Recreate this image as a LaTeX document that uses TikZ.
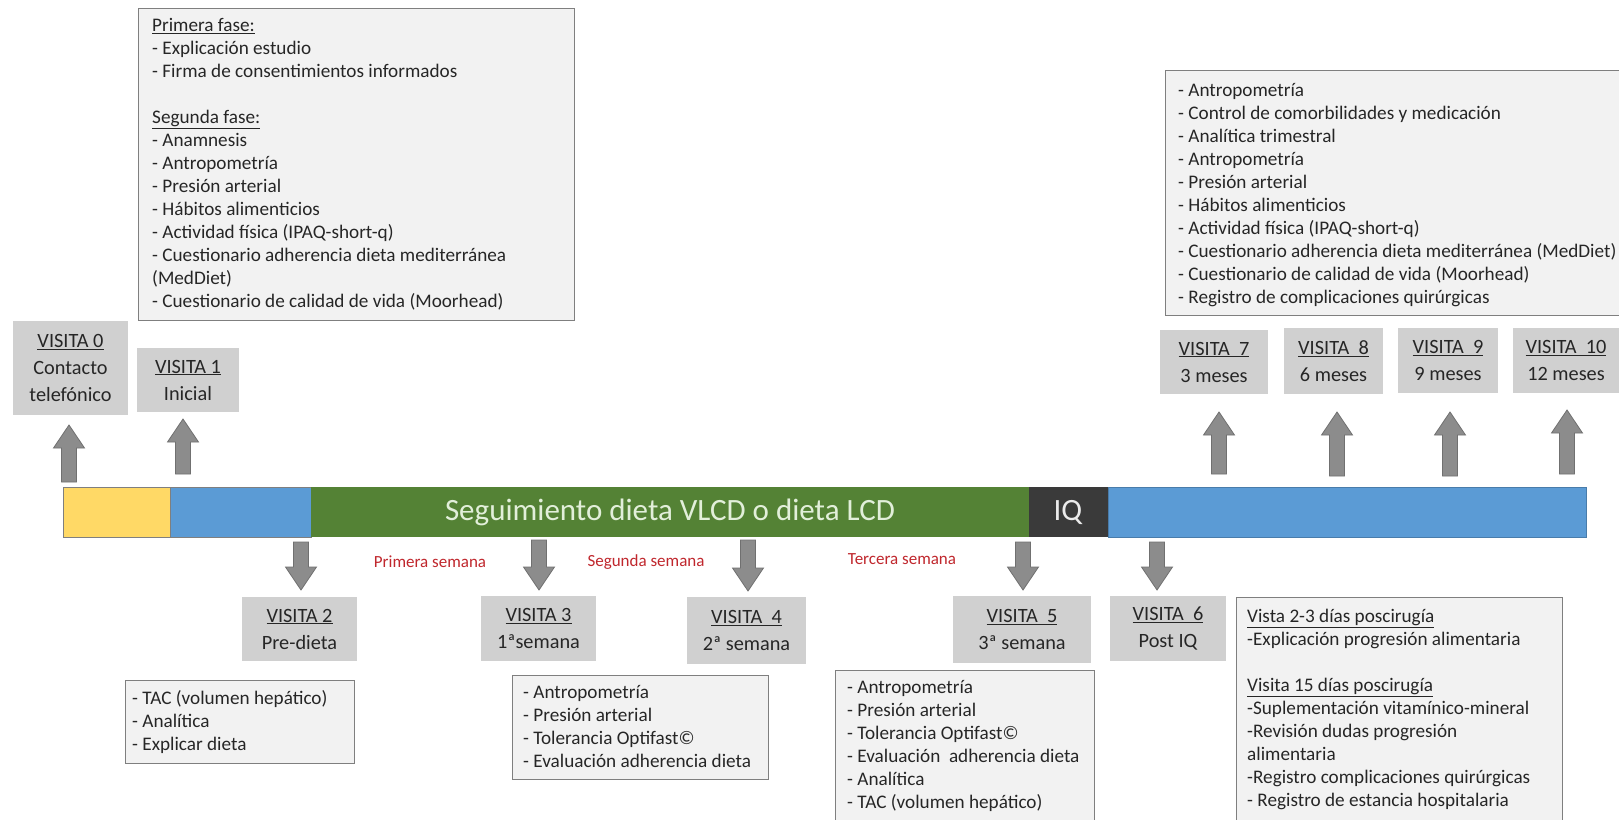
\documentclass[tikz,border=0pt]{standalone}
\usepackage{fontspec}
\setmainfont{Carlito}
\usetikzlibrary{calc}
\definecolor{txt}{HTML}{262626}
\definecolor{boxfill}{HTML}{F2F2F2}
\definecolor{boxdraw}{HTML}{7F7F7F}
\definecolor{visitfill}{HTML}{D0D0D0}
\definecolor{arrowfill}{HTML}{8C8C8C}
\definecolor{arrowdraw}{HTML}{707070}
\definecolor{barY}{HTML}{FFD966}
\definecolor{barB}{HTML}{5B9BD5}
\definecolor{barG}{HTML}{548235}
\definecolor{barK}{HTML}{3A3A3A}
\definecolor{titletxt}{HTML}{E2EFDA}
\definecolor{redtxt}{HTML}{C0272D}
\newcommand\detailfont{\fontsize{19.2}{23}\selectfont}
\newcommand\visitfont{\fontsize{20.3}{27}\selectfont}
\newcommand\vblockarrow[2]{%
  \path[blockarrow] let \p1=(#1), \p2=(#2), \n1={ifthenelse(\y2>\y1,1,-1)} in
    (\x1-7.5pt,\y1) -- (\x1-7.5pt,{\y2-\n1*23pt}) -- (\x1-15.5pt,{\y2-\n1*23pt}) -- (\x2,\y2)
    -- (\x1+15.5pt,{\y2-\n1*23pt}) -- (\x1+7.5pt,{\y2-\n1*23pt}) -- (\x1+7.5pt,\y1) -- cycle;}
\tikzset{
  dbox/.style={draw=boxdraw, fill=boxfill, line width=1pt, anchor=north west, inner sep=0pt},
  dtext/.style={font=\detailfont, text=txt, inner sep=0pt, anchor=base west},
  visit/.style={fill=visitfill, draw=none, align=center, font=\visitfont, text=txt, inner sep=0pt},
  blockarrow/.style={fill=arrowfill, draw=arrowdraw, line width=0.8pt},
  seg/.style={inner sep=0pt, anchor=north west, minimum height=50pt},
  redlabel/.style={font=\fontsize{17}{20}\selectfont, text=redtxt, inner sep=0pt},
}
\begin{document}
\begin{tikzpicture}[x=1pt,y=-1pt]
\useasboundingbox (0,0) rectangle (1619,819);
\clip (0,0) rectangle (1619,819);
\fill[white] (0,0) rectangle (1619,819);

% timeline bar
\node[seg, fill=barY, draw=boxdraw, line width=0.8pt, minimum width=107pt] (sY) at (63,487) {};
\node[seg, fill=barB, draw=boxdraw, line width=0.5pt, minimum width=141pt] (sB1) at (170,487) {};
\node[seg, fill=barG, minimum width=718pt] (sG) at (311,487) {};
\node[seg, fill=barK, minimum width=79pt] (sK) at (1029,487) {};
\node[seg, fill=barB, draw=barB!80!black, line width=0.5pt, minimum width=478pt] (sB2) at (1108,487) {};
\node[font=\fontsize{31}{36}\selectfont, text=titletxt, inner sep=0pt] (title) at (670,512) {Seguimiento dieta VLCD o dieta LCD};
\node[font=\fontsize{31}{36}\selectfont, text=white!92!black, inner sep=0pt] (iq) at (1068,512) {IQ};

% red labels
\node[redlabel] (l1) at (430,562) {Primera semana};
\node[redlabel] (l2) at (646,562) {Segunda semana};
\node[redlabel] (l3) at (902,559) {Tercera semana};

% visit boxes
\node[visit, minimum width=115pt, minimum height=94pt] (v0) at (70.5,368) {\underline{VISITA 0}\\Contacto\\telefónico};
\node[visit, minimum width=102pt, minimum height=64pt] (v1) at (188,380) {\underline{VISITA 1}\\Inicial};
\node[visit, minimum width=115pt, minimum height=64pt] (v2) at (299.5,629) {\underline{VISITA 2}\\Pre-dieta};
\node[visit, minimum width=115pt, minimum height=65pt] (v3) at (538.5,628.5) {\underline{VISITA 3}\\1ªsemana};
\node[visit, minimum width=119pt, minimum height=67pt] (v4) at (746.5,630.5) {\underline{VISITA~~4}\\2ª semana};
\node[visit, minimum width=138pt, minimum height=67pt] (v5) at (1022,629.5) {\underline{VISITA~~5}\\3ª semana};
\node[visit, minimum width=116pt, minimum height=65pt] (v6) at (1168,628.5) {\underline{VISITA~~6}\\Post IQ};
\node[visit, minimum width=108pt, minimum height=64pt] (v7) at (1214,362) {\underline{VISITA~~7}\\3 meses};
\node[visit, minimum width=99pt, minimum height=66pt] (v8) at (1333.5,361) {\underline{VISITA~~8}\\6 meses};
\node[visit, minimum width=100pt, minimum height=65pt] (v9) at (1448,360.5) {\underline{VISITA~~9}\\9 meses};
\node[visit, minimum width=106pt, minimum height=65pt] (v10) at (1566,360.5) {\underline{VISITA~~10}\\12 meses};

% detail boxes
\node[dbox, minimum width=436pt, minimum height=312pt] (d1) at (138,8) {};
\node[dtext] (t1) at (152,31.5) {\parbox[t]{420pt}{\raggedright
\underline{Primera fase:}\\
- Explicación estudio\\
- Firma de consentimientos informados\\[23pt]
\underline{Segunda fase:}\\
- Anamnesis\\
- Antropometría\\
- Presión arterial\\
- Hábitos alimenticios\\
- Actividad física (IPAQ-short-q)\\
- Cuestionario adherencia dieta mediterránea\\
(MedDiet)\\
- Cuestionario de calidad de vida (Moorhead)}};

\node[dbox, minimum width=470pt, minimum height=245pt] (d7) at (1165,70) {};
\node[dtext] (t7) at (1178,96.5) {\parbox[t]{460pt}{\raggedright
- Antropometría\\
- Control de comorbilidades y medicación\\
- Analítica trimestral\\
- Antropometría\\
- Presión arterial\\
- Hábitos alimenticios\\
- Actividad física (IPAQ-short-q)\\
- Cuestionario adherencia dieta mediterránea (MedDiet)\\
- Cuestionario de calidad de vida (Moorhead)\\
- Registro de complicaciones quirúrgicas}};

\node[dbox, minimum width=229pt, minimum height=83pt] (d2) at (125,680) {};
\node[dtext] (t2) at (132,704.5) {\parbox[t]{220pt}{\raggedright
- TAC (volumen hepático)\\
- Analítica\\
- Explicar dieta}};

\node[dbox, minimum width=256pt, minimum height=104pt] (d3) at (512,675) {};
\node[dtext] (t3) at (523,698.5) {\parbox[t]{240pt}{\raggedright
- Antropometría\\
- Presión arterial\\
- Tolerancia Optifast©\\
- Evaluación adherencia dieta}};

\node[dbox, minimum width=259pt, minimum height=170pt] (d5) at (835,670) {};
\node[dtext] (t5) at (847,693) {\parbox[t]{250pt}{\raggedright
- Antropometría\\
- Presión arterial\\
- Tolerancia Optifast©\\
- Evaluación~ adherencia dieta\\
- Analítica\\
- TAC (volumen hepático)}};

\node[dbox, minimum width=326pt, minimum height=240pt] (d6) at (1236,597) {};
\node[dtext] (t6) at (1247,622.5) {\parbox[t]{320pt}{\raggedright
\underline{Vista 2-3 días poscirugía}\\
-Explicación progresión alimentaria\\[23pt]
\underline{Visita 15 días poscirugía}\\
-Suplementación vitamínico-mineral\\
-Revisión dudas progresión\\
alimentaria\\
-Registro complicaciones quirúrgicas\\
- Registro de estancia hospitalaria}};

% block arrows
\coordinate (u0a) at (69,482);   \coordinate (u0b) at (69,425);
\coordinate (u1a) at (183,474);  \coordinate (u1b) at (183,419);
\coordinate (u7a) at (1219,474); \coordinate (u7b) at (1219,412);
\coordinate (u8a) at (1337,476); \coordinate (u8b) at (1337,412);
\coordinate (u9a) at (1450,476); \coordinate (u9b) at (1450,412);
\coordinate (u10a) at (1567,474); \coordinate (u10b) at (1567,410);
\coordinate (d2a) at (301,542);  \coordinate (d2b) at (301,590);
\coordinate (d3a) at (539,540);  \coordinate (d3b) at (539,590);
\coordinate (d4a) at (748,540);  \coordinate (d4b) at (748,591);
\coordinate (d5a) at (1023,542); \coordinate (d5b) at (1023,590);
\coordinate (d6a) at (1157,542); \coordinate (d6b) at (1157,590);
\vblockarrow{u0a}{u0b}
\vblockarrow{u1a}{u1b}
\vblockarrow{u7a}{u7b}
\vblockarrow{u8a}{u8b}
\vblockarrow{u9a}{u9b}
\vblockarrow{u10a}{u10b}
\vblockarrow{d2a}{d2b}
\vblockarrow{d3a}{d3b}
\vblockarrow{d4a}{d4b}
\vblockarrow{d5a}{d5b}
\vblockarrow{d6a}{d6b}
\end{tikzpicture}
\end{document}
